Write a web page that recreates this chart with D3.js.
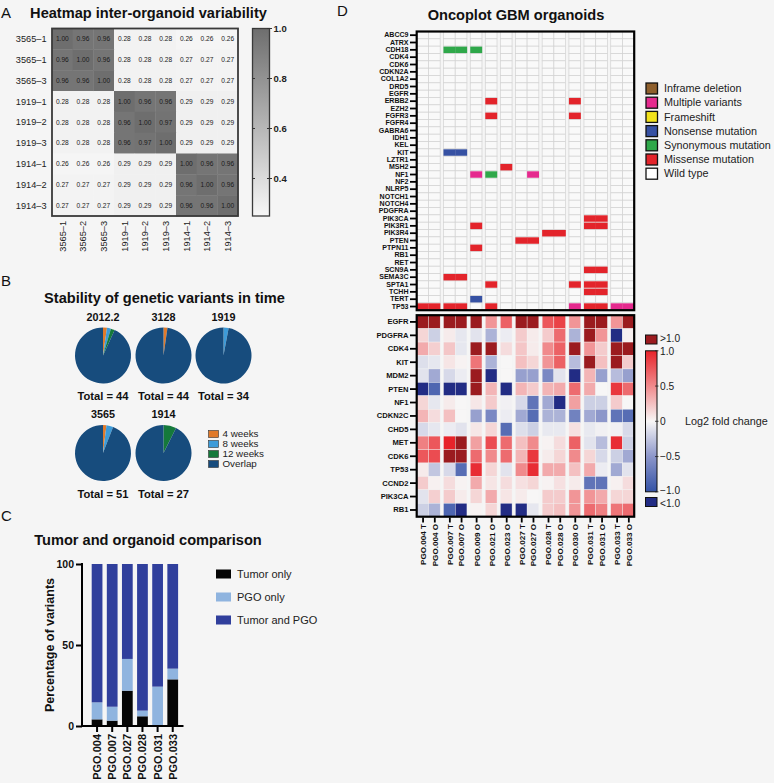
<!DOCTYPE html>
<html><head><meta charset="utf-8">
<script src="https://cdn.jsdelivr.net/npm/d3@7"></script>
<style>
body{margin:0;background:#f5f5f5;}
svg{display:block;font-family:"Liberation Sans",Arial,Helvetica,sans-serif;}
</style>
</head><body>
<svg id="c" width="774" height="783"></svg>
<script>
// ---------------- DATA ----------------
// Panel A
const orgRowLabels = ["3565–1","3565–1","3565–3","1919–1","1919–2","1919–3","1914–1","1914–2","1914–3"];
const orgColLabels = ["3565–1","3565–2","3565–3","1919–1","1919–2","1919–3","1914–1","1914–2","1914–3"];
const orgCorr = [
  [1.00,0.96,0.96,0.28,0.28,0.28,0.26,0.26,0.26],
  [0.96,1.00,0.96,0.28,0.28,0.28,0.27,0.27,0.27],
  [0.96,0.96,1.00,0.28,0.28,0.28,0.27,0.27,0.27],
  [0.28,0.28,0.28,1.00,0.96,0.96,0.29,0.29,0.29],
  [0.28,0.28,0.28,0.96,1.00,0.97,0.29,0.29,0.29],
  [0.28,0.28,0.28,0.96,0.97,1.00,0.29,0.29,0.29],
  [0.26,0.26,0.26,0.29,0.29,0.29,1.00,0.96,0.96],
  [0.27,0.27,0.27,0.29,0.29,0.29,0.96,1.00,0.96],
  [0.27,0.27,0.27,0.29,0.29,0.29,0.96,0.96,1.00]
];
const corrTicks = [0.4,0.6,0.8,1.0];

// Panel B
const pieNames = ["2012.2","3128","1919","3565","1914"];
const pieTotals = [44,44,34,51,27];
const pie4w = [1,1,0,1,0];
const pie8w = [1,0,1,2,0];
const pie12w = [1,0,0,0,2];
const pieOverlap = [41,43,33,48,25];
const pieKeys = ["4 weeks","8 weeks","12 weeks","Overlap"];
const pieColors = ["#e07a2b","#3d9bd8","#15793b","#174c7d"];

// Panel C
const cmpSamples = ["PGO.004","PGO.007","PGO.027","PGO.028","PGO.031","PGO.033"];
const tumorOnly = [4.1,3.3,21.8,6.0,0.0,28.8];
const pgoOnly = [10.5,8.6,19.6,3.5,24.3,6.6];
const tumorAndPgo = [85.4,88.1,58.6,90.5,75.7,64.6];
const cmpKeys = ["Tumor only","PGO only","Tumor and PGO"];
const cmpColors = ["#050505","#8fb4df","#303f9c"];
const cmpTicks = [0,50,100];

// Panel D
const oncoSamples = ["PGO.004 T","PGO.004 O","PGO.007 T","PGO.007 O","PGO.009 O","PGO.021 O","PGO.023 O",
  "PGO.027 T","PGO.027 O","PGO.028 T","PGO.028 O","PGO.030 O","PGO.031 T","PGO.031 O","PGO.033 T","PGO.033 O"];
const oncoGenes = ["ABCC9","ATRX","CDH18","CDK4","CDK6","CDKN2A","COL1A2","DRD5","EGFR","ERBB2","EZH2","FGFR3",
  "FGFR4","GABRA6","IDH1","KEL","KIT","LZTR1","MSH2","NF1","NF2","NLRP5","NOTCH1","NOTCH4","PDGFRA","PIK3CA",
  "PIK3R1","PIK3R4","PTEN","PTPN11","RB1","RET","SCN9A","SEMA3C","SPTA1","TCHH","TERT","TP53"];
const mutTypes = ["Inframe deletion","Multiple variants","Frameshift","Nonsense mutation","Synonymous mutation","Missense mutation","Wild type"];
const mutColors = ["#8e5f2c","#e52a8e","#f2e21b","#3651a3","#2fa84a","#e3242b","#ffffff"];
const mutations = [
  ["CDH18","PGO.007 T","Synonymous mutation"],["CDH18","PGO.007 O","Synonymous mutation"],["CDH18","PGO.009 O","Synonymous mutation"],
  ["ERBB2","PGO.021 O","Missense mutation"],["ERBB2","PGO.030 O","Missense mutation"],
  ["FGFR3","PGO.021 O","Missense mutation"],["FGFR3","PGO.030 O","Missense mutation"],
  ["KIT","PGO.007 T","Nonsense mutation"],["KIT","PGO.007 O","Nonsense mutation"],
  ["MSH2","PGO.023 O","Missense mutation"],
  ["NF1","PGO.009 O","Multiple variants"],["NF1","PGO.021 O","Synonymous mutation"],["NF1","PGO.027 O","Multiple variants"],
  ["PIK3CA","PGO.031 T","Missense mutation"],["PIK3CA","PGO.031 O","Missense mutation"],
  ["PIK3R1","PGO.009 O","Missense mutation"],["PIK3R1","PGO.031 T","Missense mutation"],["PIK3R1","PGO.031 O","Missense mutation"],
  ["PIK3R4","PGO.028 T","Missense mutation"],["PIK3R4","PGO.028 O","Missense mutation"],
  ["PTEN","PGO.027 T","Missense mutation"],["PTEN","PGO.027 O","Missense mutation"],
  ["PTPN11","PGO.009 O","Missense mutation"],
  ["SCN9A","PGO.031 T","Missense mutation"],["SCN9A","PGO.031 O","Missense mutation"],
  ["SEMA3C","PGO.007 T","Missense mutation"],["SEMA3C","PGO.007 O","Missense mutation"],
  ["SPTA1","PGO.021 O","Missense mutation"],["SPTA1","PGO.030 O","Missense mutation"],["SPTA1","PGO.031 T","Missense mutation"],["SPTA1","PGO.031 O","Missense mutation"],
  ["TCHH","PGO.031 T","Missense mutation"],["TCHH","PGO.031 O","Missense mutation"],
  ["TERT","PGO.009 O","Nonsense mutation"],
  ["TP53","PGO.004 T","Missense mutation"],["TP53","PGO.004 O","Missense mutation"],["TP53","PGO.007 T","Missense mutation"],
  ["TP53","PGO.007 O","Missense mutation"],["TP53","PGO.021 O","Missense mutation"],["TP53","PGO.030 O","Multiple variants"],
  ["TP53","PGO.031 T","Missense mutation"],["TP53","PGO.031 O","Missense mutation"],["TP53","PGO.033 T","Multiple variants"],
  ["TP53","PGO.033 O","Multiple variants"]
];
const cnvGenes = ["EGFR","PDGFRA","CDK4","KIT","MDM2","PTEN","NF1","CDKN2C","CHD5","MET","CDK6","TP53","CCND2","PIK3CA","RB1"];
const log2fc = [
  [1.5,1.5,1.5,1.5,1.5,0.45,0.7,1.5,1.5,0.75,0.85,0.45,1.5,1.5,0.45,1.5],
  [0.15,-0.2,0.05,-0.08,-0.1,-0.35,-0.05,0.2,0.05,0.2,0.65,-0.35,1.5,0.45,-1.5,0.03],
  [0.35,0.18,0.22,-0.08,1.5,1.5,0.12,0.22,0.05,0.5,0.7,1.5,0.45,0.2,1.5,1.5],
  [-0.12,-0.08,0.08,0.02,0.6,-0.35,0.0,0.25,0.15,0.45,0.7,-0.3,1.5,0.25,1.5,0.2],
  [-0.1,-0.4,-0.15,-0.05,1.5,-1.5,0.0,-0.45,-0.45,-0.6,-0.1,-1.5,0.3,-0.45,-0.3,-0.45],
  [-1.5,-0.85,-1.5,-1.5,1.5,0.3,-1.5,0.3,0.2,0.3,0.35,0.65,0.35,0.0,0.9,0.65],
  [0.15,-0.08,0.05,0.0,0.07,0.2,-0.03,-0.15,-0.75,-0.4,-1.5,0.4,-0.2,-0.2,0.2,0.0],
  [0.3,0.12,0.25,0.0,-0.45,-0.6,-0.05,-0.4,-0.8,-0.35,-0.35,-0.65,-0.4,-0.5,-0.75,-0.8],
  [-0.15,-0.08,-0.05,-0.1,0.07,0.15,-0.8,-0.12,-0.2,-0.07,-0.07,0.1,-0.07,-0.03,-0.03,-0.15],
  [0.55,0.75,1.0,1.5,0.4,0.8,0.65,0.25,0.5,0.02,0.12,0.7,-0.1,-0.3,0.95,-0.2],
  [0.75,0.8,1.5,1.5,0.65,0.5,0.65,0.3,0.9,0.05,0.15,0.5,0.15,-0.15,-0.2,-0.4],
  [0.05,-0.25,-0.15,-0.8,0.95,0.15,-0.1,0.5,0.95,0.35,0.35,0.25,0.35,-0.05,-0.4,-0.1],
  [0.2,0.03,0.12,0.02,0.35,0.08,0.12,0.1,0.15,0.02,0.1,0.05,-0.75,-0.75,0.03,0.12],
  [-0.1,0.18,0.2,0.05,0.15,0.35,0.08,0.05,0.0,0.2,0.2,0.45,0.45,0.35,0.15,0.15],
  [-0.2,-0.35,-0.85,-1.5,0.02,0.15,-1.5,-1.5,-0.08,0.2,0.25,0.45,0.65,0.55,0.6,0.65]
];
const fcTicks = [1,0.5,0,-0.5,-1];
const fcTickLabels = ["1.0","0.5","0","−0.5","−1.0"];

// ---------------- DRAW ----------------
const svg = d3.select("#c");
svg.append("rect").attr("width",774).attr("height",783).attr("fill","#f5f5f5");

function panelLabel(t,x,y){
  svg.append("text").attr("x",x).attr("y",y).attr("font-size",15).attr("fill","#111").text(t);
}
function title(t,x,y){
  svg.append("text").attr("x",x).attr("y",y).attr("text-anchor","middle").attr("font-size",14.6)
    .attr("font-weight","bold").attr("fill","#111").text(t);
}

// ===== Panel A =====
panelLabel("A",1,17.5);
title("Heatmap inter-organoid variability",148.5,17.5);
const gA = svg.append("g");
const xA = d3.scaleBand().domain(d3.range(9)).range([52,238]);
const yA = d3.scaleBand().domain(d3.range(9)).range([28.5,216]);
const colA = d3.scaleLinear().domain([0.25,1]).range(["#f7f7f7","#6e6e6e"]);
orgCorr.forEach((row,i)=>row.forEach((v,j)=>{
  gA.append("rect").attr("x",xA(j)).attr("y",yA(i)).attr("width",xA.bandwidth()+0.4)
    .attr("height",yA.bandwidth()+0.4).attr("fill",colA(v));
}));
orgCorr.forEach((row,i)=>row.forEach((v,j)=>{
  gA.append("text").attr("x",xA(j)+xA.bandwidth()/2).attr("y",yA(i)+yA.bandwidth()/2)
    .attr("dy","0.35em").attr("text-anchor","middle").attr("font-size",6.6).attr("fill","#1a1a1a").text(v.toFixed(2));
}));
gA.append("rect").attr("x",52).attr("y",28.5).attr("width",186).attr("height",187.5)
  .attr("fill","none").attr("stroke","#3a3a3a").attr("stroke-width",1.8);
orgRowLabels.forEach((l,i)=>{
  gA.append("text").attr("x",46.5).attr("y",yA(i)+yA.bandwidth()/2).attr("dy","0.35em")
    .attr("text-anchor","end").attr("font-size",9.2).attr("fill","#222").text(l);
});
orgColLabels.forEach((l,j)=>{
  gA.append("text").attr("transform",`translate(${xA(j)+xA.bandwidth()/2},221) rotate(-90)`)
    .attr("dy","0.35em").attr("text-anchor","end").attr("font-size",9.2).attr("fill","#222").text(l);
});
// colorbar A
const defs = svg.append("defs");
const gradA = defs.append("linearGradient").attr("id","gA").attr("x1",0).attr("y1",1).attr("x2",0).attr("y2",0);
gradA.append("stop").attr("offset","0%").attr("stop-color",colA(0.25));
gradA.append("stop").attr("offset","100%").attr("stop-color",colA(1));
const cbA = d3.scaleLinear().domain([0.25,1]).range([216,28.5]);
gA.append("rect").attr("x",252.5).attr("y",28.5).attr("width",17).attr("height",187.5)
  .attr("fill","url(#gA)").attr("stroke","#3a3a3a").attr("stroke-width",1.3);
corrTicks.forEach(t=>{
  gA.append("line").attr("x1",252.5).attr("x2",255).attr("y1",cbA(t)).attr("y2",cbA(t)).attr("stroke","#333").attr("stroke-width",1);
  gA.append("line").attr("x1",267).attr("x2",272).attr("y1",cbA(t)).attr("y2",cbA(t)).attr("stroke","#333").attr("stroke-width",1);
  gA.append("text").attr("x",273.5).attr("y",cbA(t)).attr("dy","0.35em").attr("font-size",9.5)
    .attr("font-weight","bold").attr("fill","#222").text(t.toFixed(1));
});

// ===== Panel B =====
panelLabel("B",1,286);
title("Stability of genetic variants in time",164.5,302.5);
const pieCx = [103,163.5,223.5,103,163.5];
const pieCy = [355.5,355.5,355.5,453,453];
const pieGen = d3.pie().sort(null).value(d=>d);
const arcB = d3.arc().innerRadius(0).outerRadius(28);
pieNames.forEach((n,i)=>{
  const vals = [pie4w[i],pie8w[i],pie12w[i],pieOverlap[i]];
  const g = svg.append("g").attr("transform",`translate(${pieCx[i]},${pieCy[i]})`);
  g.selectAll("path").data(pieGen(vals)).join("path").attr("d",arcB).attr("fill",(d,k)=>pieColors[k]);
  svg.append("text").attr("x",pieCx[i]).attr("y",pieCy[i]-35).attr("text-anchor","middle")
    .attr("font-size",10.8).attr("font-weight","bold").attr("fill","#111").text(n);
  svg.append("text").attr("x",pieCx[i]).attr("y",pieCy[i]+44.5).attr("text-anchor","middle")
    .attr("font-size",11.2).attr("font-weight","bold").attr("fill","#111").text("Total = "+pieTotals[i]);
});
pieKeys.forEach((k,i)=>{
  const y = 434+i*10;
  svg.append("rect").attr("x",208.5).attr("y",y-3.5).attr("width",10).attr("height",7)
    .attr("fill",pieColors[i]).attr("stroke","#333").attr("stroke-width",0.6);
  svg.append("text").attr("x",222.5).attr("y",y).attr("dy","0.35em").attr("font-size",9.8).attr("fill","#222").text(k);
});

// ===== Panel C =====
panelLabel("C",1,521);
title("Tumor and organoid comparison",148,544.5);
const xC = d3.scaleBand().domain(cmpSamples).range([89.5,180.3]).paddingInner(0.29).paddingOuter(0.145);
const yC = d3.scaleLinear().domain([0,100]).range([726,564]);
const stackData = cmpSamples.map((s,i)=>({s, a:tumorOnly[i], b:pgoOnly[i], c:tumorAndPgo[i]}));
const stacked = d3.stack().keys(["a","b","c"])(stackData);
const gC = svg.append("g");
stacked.forEach((layer,k)=>{
  gC.selectAll(null).data(layer).join("rect")
    .attr("x",d=>xC(d.data.s)).attr("width",xC.bandwidth())
    .attr("y",d=>yC(d[1])).attr("height",d=>Math.max(0,yC(d[0])-yC(d[1])))
    .attr("fill",cmpColors[k]);
});
const axYC = gC.append("g").attr("transform","translate(82,0)").call(d3.axisLeft(yC).tickValues(cmpTicks).tickSize(6).tickPadding(2));
axYC.select(".domain").remove();
axYC.selectAll("line").attr("stroke","#000").attr("stroke-width",2);
axYC.selectAll("text").attr("font-size",10.5).attr("font-weight","bold").attr("fill","#111").attr("font-family",null);
gC.append("line").attr("x1",82).attr("x2",82).attr("y1",563).attr("y2",727).attr("stroke","#000").attr("stroke-width",2);
const axXC = gC.append("g").attr("transform","translate(0,726)").call(d3.axisBottom(xC).tickSize(6));
axXC.select(".domain").remove();
axXC.selectAll("line").attr("stroke","#000").attr("stroke-width",2);
axXC.selectAll("text").attr("transform","rotate(-90)").attr("text-anchor","end").attr("x",-8).attr("y",0).attr("dy","0.36em")
  .attr("font-size",11).attr("font-weight","bold").attr("fill","#111").attr("font-family",null);
gC.append("line").attr("x1",81).attr("x2",183.5).attr("y1",726).attr("y2",726).attr("stroke","#000").attr("stroke-width",2);
svg.append("text").attr("transform","translate(54,645) rotate(-90)").attr("text-anchor","middle")
  .attr("font-size",12.5).attr("font-weight","bold").attr("fill","#111").text("Percentage of variants");
cmpKeys.forEach((k,i)=>{
  const y = 574+i*23;
  svg.append("rect").attr("x",216).attr("y",y-4.5).attr("width",15).attr("height",9).attr("fill",cmpColors[i]);
  svg.append("text").attr("x",237).attr("y",y).attr("dy","0.35em").attr("font-size",11).attr("fill","#222").text(k);
});

// ===== Panel D =====
panelLabel("D",337,16);
title("Oncoplot GBM organoids",516,19.5);
const GAP = 0.282;
const groupOf = s => s.split(" ")[0];
let unit = 0; const colStart = [];
oncoSamples.forEach((s,i)=>{
  if(i>0 && groupOf(s)!==groupOf(oncoSamples[i-1])) unit += GAP;
  colStart.push(unit); unit += 1;
});
const xD = d3.scaleLinear().domain([0,unit]).range([416.7,634.2]);
const colW = xD(1)-xD(0);
const colIdx = s => oncoSamples.indexOf(s);
const colX = s => xD(colStart[colIdx(s)]);

// top oncoplot
const yT = d3.scaleBand().domain(oncoGenes).range([31.5,310.2]);
const gT = svg.append("g");
oncoGenes.forEach(g=>oncoSamples.forEach(s=>{
  gT.append("rect").attr("x",colX(s)).attr("y",yT(g)).attr("width",colW).attr("height",yT.bandwidth())
    .attr("fill","#f9f9f9").attr("stroke","#d2d2d2").attr("stroke-width",0.7);
}));
const mutColor = d3.scaleOrdinal().domain(mutTypes).range(mutColors);
mutations.forEach(([g,s,t])=>{
  gT.append("rect").attr("x",colX(s)).attr("y",yT(g)+0.45).attr("width",colW+0.2).attr("height",yT.bandwidth()-0.9)
    .attr("fill",mutColor(t));
});
gT.append("rect").attr("x",416.7).attr("y",31.5).attr("width",217.5).attr("height",278.7)
  .attr("fill","none").attr("stroke","#000").attr("stroke-width",2.2);
const axT = gT.append("g").attr("transform","translate(416,0)").call(d3.axisLeft(yT).tickSize(6).tickPadding(1.5));
axT.select(".domain").remove();
axT.selectAll("line").attr("stroke","#000").attr("stroke-width",1.8);
axT.selectAll("text").attr("font-size",6.4).attr("font-weight","bold").attr("fill","#111").attr("font-family",null)
  .attr("transform","scale(1.1,1)").attr("x",-7.5/1.1);

// bottom heatmap
const yB = d3.scaleBand().domain(cnvGenes).range([315.2,516.7]);
const fcColor = d3.scaleLinear().domain([-1,-0.5,0,0.5,1])
  .range(["#3352a6","#8c96ca","#f7f6f6","#f08a8c","#e7232a"]);
const fcFill = v => v>1 ? "#9b1b1f" : (v<-1 ? "#222c84" : fcColor(v));
const gB = svg.append("g");
cnvGenes.forEach((g,i)=>oncoSamples.forEach((s,j)=>{
  gB.append("rect").attr("x",colX(s)).attr("y",yB(g)).attr("width",colW).attr("height",yB.bandwidth())
    .attr("fill",fcFill(log2fc[i][j])).attr("stroke","#f3f3f3").attr("stroke-width",0.4);
}));
gB.append("rect").attr("x",416.7).attr("y",315.2).attr("width",217.5).attr("height",201.5)
  .attr("fill","none").attr("stroke","#000").attr("stroke-width",2.2);
const axB = gB.append("g").attr("transform","translate(416,0)").call(d3.axisLeft(yB).tickSize(6).tickPadding(1.5));
axB.select(".domain").remove();
axB.selectAll("line").attr("stroke","#000").attr("stroke-width",1.8);
axB.selectAll("text").attr("font-size",7.6).attr("font-weight","bold").attr("fill","#111").attr("font-family",null);
const centers = oncoSamples.map((s,i)=>colStart[i]+0.5);
const axXD = gB.append("g").attr("transform","translate(0,517.5)")
  .call(d3.axisBottom(xD).tickValues(centers).tickFormat((d,i)=>oncoSamples[i]).tickSize(5));
axXD.select(".domain").remove();
axXD.selectAll("line").attr("stroke","#000").attr("stroke-width",1.8);
axXD.selectAll("text").attr("transform","rotate(-90)").attr("text-anchor","end").attr("x",-6.5).attr("y",0).attr("dy","0.36em")
  .attr("font-size",8.1).attr("font-weight","bold").attr("fill","#111").attr("font-family",null);

// legend mutations
mutTypes.forEach((t,i)=>{
  const y = 88.5+i*14.2;
  svg.append("rect").attr("x",646).attr("y",y-5.5).attr("width",11.5).attr("height",11)
    .attr("fill",mutColors[i]).attr("stroke","#111").attr("stroke-width",1.3);
  svg.append("text").attr("x",664).attr("y",y).attr("dy","0.35em").attr("font-size",10.8).attr("fill","#222").text(t);
});

// colorbar fold change
const cbD = d3.scaleLinear().domain([-1,1]).range([491.8,350.8]);
const gradD = defs.append("linearGradient").attr("id","gD").attr("x1",0).attr("y1",1).attr("x2",0).attr("y2",0);
[-1,-0.5,0,0.5,1].forEach((v,i)=>gradD.append("stop").attr("offset",(i*25)+"%").attr("stop-color",fcColor(v)));
svg.append("rect").attr("x",645.5).attr("y",335).attr("width",11.5).attr("height",9)
  .attr("fill","#9b1b1f").attr("stroke","#111").attr("stroke-width",1);
svg.append("text").attr("x",660).attr("y",338.5).attr("dy","0.35em").attr("font-size",10.2).attr("fill","#222").text(">1.0");
svg.append("rect").attr("x",645.5).attr("y",350.8).attr("width",11.5).attr("height",141)
  .attr("fill","url(#gD)").attr("stroke","#111").attr("stroke-width",1);
fcTicks.forEach((t,i)=>{
  svg.append("line").attr("x1",655).attr("x2",658.5).attr("y1",cbD(t)).attr("y2",cbD(t)).attr("stroke","#222").attr("stroke-width",0.8);
  svg.append("text").attr("x",660).attr("y",t===-1?cbD(t)-1.5:(t===1?cbD(t)+1:cbD(t))).attr("dy","0.35em")
    .attr("font-size",10.2).attr("fill","#222").text(fcTickLabels[i]);
});
svg.append("rect").attr("x",645.5).attr("y",497.5).attr("width",11.5).attr("height",9)
  .attr("fill","#222c84").attr("stroke","#111").attr("stroke-width",1);
svg.append("text").attr("x",660).attr("y",503.5).attr("dy","0.35em").attr("font-size",10.2).attr("fill","#222").text("<1.0");
svg.append("text").attr("x",685).attr("y",cbD(0)).attr("dy","0.35em").attr("font-size",10.8).attr("fill","#222").text("Log2 fold change");
</script>
</body></html>
